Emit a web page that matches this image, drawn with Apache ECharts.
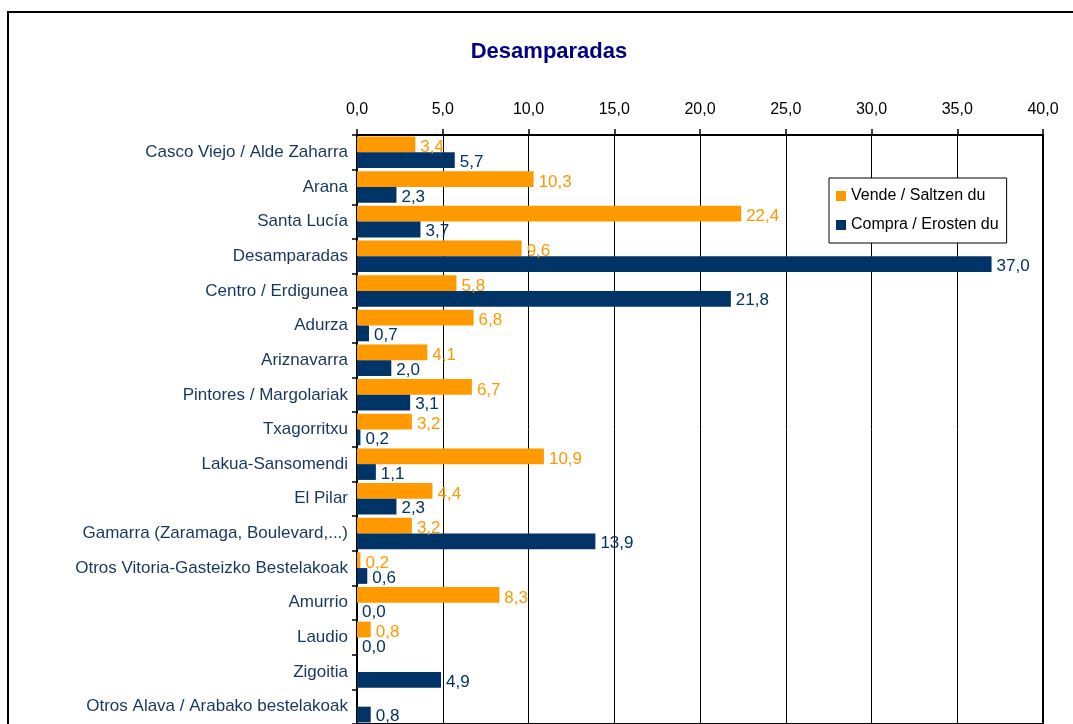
<!DOCTYPE html>
<html>
<head>
<meta charset="utf-8">
<script src="https://cdn.jsdelivr.net/npm/echarts@6/dist/echarts.min.js"></script>
<style>
  html, body { margin: 0; padding: 0; background: #fff; }
  #chart { width: 1073px; height: 724px; }
</style>
</head>
<body>
<div id="chart"></div>
<script>
var categories = [
    'Casco Viejo / Alde Zaharra', 'Arana', 'Santa Lucía', 'Desamparadas',
    'Centro / Erdigunea', 'Adurza', 'Ariznavarra', 'Pintores / Margolariak',
    'Txagorritxu', 'Lakua-Sansomendi', 'El Pilar', 'Gamarra (Zaramaga, Boulevard,...)',
    'Otros Vitoria-Gasteizko Bestelakoak', 'Amurrio', 'Laudio', 'Zigoitia',
    'Otros Alava / Arabako bestelakoak'
];
var vende = [3.4, 10.3, 22.4, 9.6, 5.8, 6.8, 4.1, 6.7, 3.2, 10.9, 4.4, 3.2, 0.2, 8.3, 0.8, null, null];
var compra = [5.7, 2.3, 3.7, 37.0, 21.8, 0.7, 2.0, 3.1, 0.2, 1.1, 2.3, 13.9, 0.6, 0.0, 0.0, 4.9, 0.8];
var seriesNames = ['Vende / Saltzen du', 'Compra / Erosten du'];

var FONT = 'Liberation Sans, Arial, sans-serif';
var ORANGE = '#FF9900';
var NAVY = '#003366';

function comma(v) { return Number(v).toFixed(1).replace('.', ','); }

var chart = echarts.init(document.getElementById('chart'), null, { renderer: 'canvas' });

chart.setOption({
    backgroundColor: '#fff',
    animation: false,
    textStyle: { fontFamily: FONT },
    graphic: [
        {
            type: 'rect', silent: true, z: -1,
            shape: { x: 8, y: 12, width: 1200, height: 900 },
            style: { fill: 'none', stroke: '#000', lineWidth: 2 }
        },
        {
            type: 'text', silent: true,
            style: {
                text: 'Desamparadas', x: 549, y: 52,
                textAlign: 'center', textVerticalAlign: 'middle',
                font: 'bold 22px ' + FONT, fill: '#000080'
            }
        }
    ],
    legend: {
        data: seriesNames,
        orient: 'vertical',
        left: 829, top: 178,
        backgroundColor: '#fff',
        borderColor: '#000', borderWidth: 1,
        padding: [10, 8, 10, 7],
        itemWidth: 10, itemHeight: 10, itemGap: 13,
        icon: 'rect',
        textStyle: { color: '#000', fontSize: 16, fontFamily: FONT }
    },
    grid: {
        left: 357, right: 30, top: 135, bottom: -8,
        show: true, borderColor: '#000', borderWidth: 2,
        containLabel: false
    },
    xAxis: {
        type: 'value', position: 'top',
        min: 0, max: 40, interval: 5,
        axisLine: { show: true, lineStyle: { color: '#000', width: 2 } },
        axisTick: { show: true, length: 6, lineStyle: { color: '#000', width: 1.5 } },
        axisLabel: { color: '#000', fontSize: 16, margin: 17, formatter: comma },
        splitLine: { show: true, lineStyle: { color: '#000', width: 1 } }
    },
    yAxis: {
        type: 'category', inverse: true,
        data: categories,
        axisLine: { show: true, lineStyle: { color: '#000', width: 2 } },
        axisTick: { show: true, length: 5, lineStyle: { color: '#000', width: 1.5 } },
        axisLabel: { color: '#17375E', fontSize: 17, margin: 9, padding: [3, 0, 0, 0] },
        splitLine: { show: false }
    },
    series: [
        {
            name: seriesNames[0], type: 'bar', data: vende,
            barGap: '0%', barCategoryGap: '9%',
            itemStyle: { color: ORANGE },
            label: {
                show: true, position: 'right', distance: 5, offset: [0, 3],
                color: ORANGE, fontSize: 17, fontFamily: FONT,
                formatter: function (p) { return comma(p.value); }
            }
        },
        {
            name: seriesNames[1], type: 'bar', data: compra,
            barGap: '0%', barCategoryGap: '9%',
            itemStyle: { color: NAVY },
            label: {
                show: true, position: 'right', distance: 5, offset: [0, 2],
                color: NAVY, fontSize: 17, fontFamily: FONT,
                formatter: function (p) { return comma(p.value); }
            }
        }
    ]
});
</script>
</body>
</html>
